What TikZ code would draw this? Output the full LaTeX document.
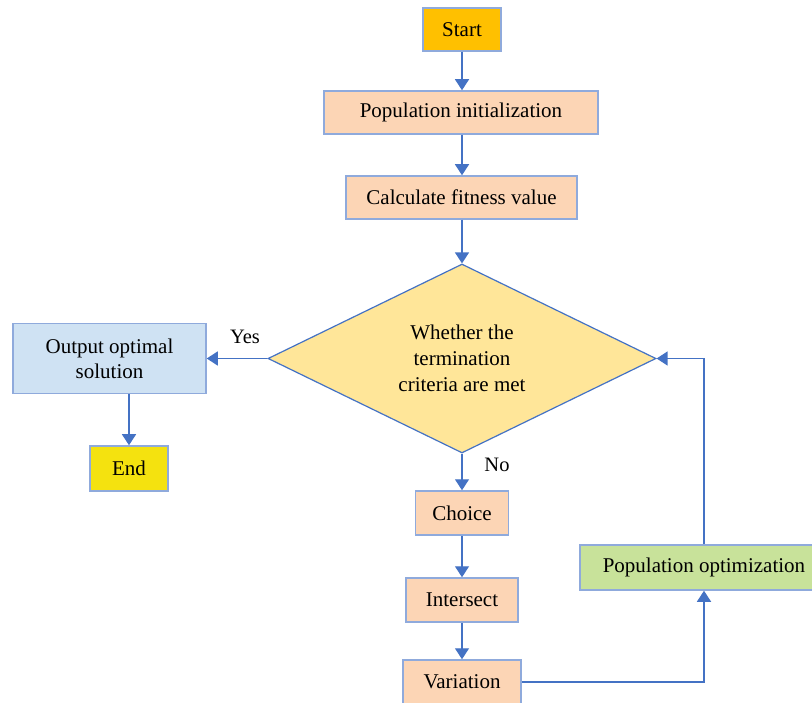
\documentclass[tikz,border=0pt]{standalone}
\usepackage{fontspec}
\setmainfont{Liberation Serif}
\usetikzlibrary{shapes.geometric,arrows.meta}
\definecolor{lineC}{HTML}{4472C4}
\definecolor{edgeC}{HTML}{8FAADC}
\definecolor{startC}{HTML}{FFC000}
\definecolor{peachC}{HTML}{FCD5B5}
\definecolor{decC}{HTML}{FFE699}
\definecolor{outC}{HTML}{CFE2F3}
\definecolor{endC}{HTML}{F4E20F}
\definecolor{optC}{HTML}{C8E29A}
\tikzset{
  box/.style={draw=edgeC, line width=1.5pt, inner sep=0pt, align=center,
    font=\fontsize{21}{25}\selectfont},
  flow/.style={draw=lineC, line width=1.3pt, -{Triangle[width=14pt,length=11pt]}},
  lbl/.style={font=\fontsize{20.5}{24}\selectfont}
}
\begin{document}
\begin{tikzpicture}[x=1pt,y=-1pt]
\useasboundingbox (0,0) rectangle (812,703);
\fill[white] (0,0) rectangle (812,703);

% main column
\node[box, fill=startC, minimum width=78pt, minimum height=43pt] (start) at (462,29.5) {Start};
\node[box, fill=peachC, minimum width=274pt, minimum height=43pt] (init) at (461,112.5) {Population initialization};
\node[box, fill=peachC, minimum width=231pt, minimum height=43pt] (fit) at (461.5,197.5) {Calculate fitness value};
\node[diamond, draw=lineC, line width=1.2pt, fill=decC, aspect=2, inner sep=0pt,
  minimum width=388pt, minimum height=189pt, align=center,
  font=\fontsize{21}{26}\selectfont] (dec) at (462,358.5)
  {Whether the\\termination\\criteria are met};
\node[box, fill=peachC, minimum width=93pt, minimum height=44pt] (choice) at (462,513) {Choice};
\node[box, fill=peachC, minimum width=112pt, minimum height=44pt] (inter) at (462,600) {Intersect};
\node[box, fill=peachC, minimum width=118pt, minimum height=44pt] (vari) at (462,682) {Variation};

% side branches
\node[box, fill=outC, minimum width=193pt, minimum height=70pt] (out) at (109.5,358.5) {Output optimal\\solution};
\node[box, fill=endC, minimum width=78pt, minimum height=45pt] (end) at (129,468.5) {End};
\node[box, fill=optC, minimum width=248pt, minimum height=45pt] (opt) at (704,567.5) {Population optimization};

\node[lbl] (yes) at (245,337) {Yes};
\node[lbl] (no) at (497,465) {No};

% connectors
\draw[flow] (start.south) -- (start.south |- init.north);
\draw[flow] (init.south -| start.south) -- (start.south |- fit.north);
\draw[flow] (fit.south -| dec.north) -- (dec.north);
\draw[flow] (dec.west) -- (dec.west -| out.east);
\draw[flow] (out.south -| end.north) -- (end.north);
\draw[flow] (dec.south) -- (dec.south |- choice.north);
\draw[flow] (choice.south) -- (choice.south |- inter.north);
\draw[flow] (inter.south) -- (inter.south |- vari.north);
\draw[flow] (vari.east) -| (opt.south);
\draw[flow] (opt.north) |- (dec.east);
\end{tikzpicture}
\end{document}
